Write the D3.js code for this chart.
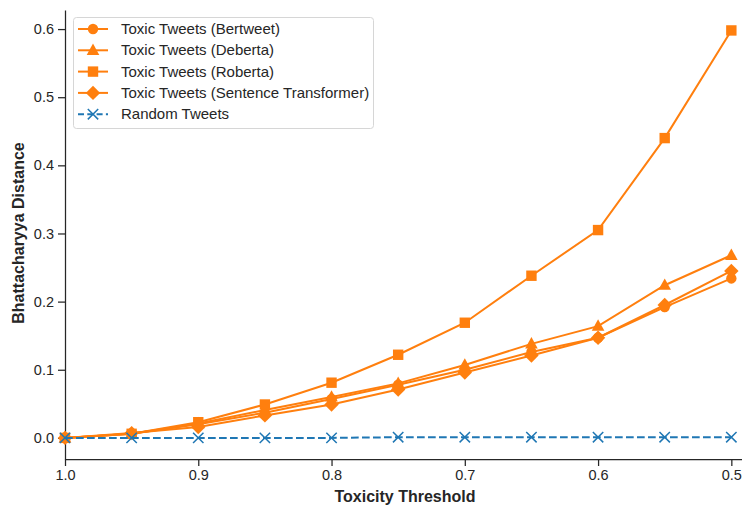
<!DOCTYPE html>
<html>
<head>
<meta charset="utf-8">
<script src="https://cdn.jsdelivr.net/npm/d3@7/dist/d3.min.js"></script>
<style>
  html, body { margin: 0; padding: 0; background: #fff; }
  svg text { font-family: "Liberation Sans", Arial, sans-serif; fill: #262626; }
</style>
</head>
<body>
<svg id="chart" width="742" height="506"></svg>
<script>
// Toxicity thresholds (x axis runs from 1.0 down to 0.5)
const thresholds = [1.0, 0.95, 0.9, 0.85, 0.8, 0.75, 0.7, 0.65, 0.6, 0.55, 0.5];

// Bhattacharyya distance per threshold, one array per embedding model
const bertweet   = [0.000, 0.006, 0.020, 0.037, 0.057, 0.078, 0.100, 0.126, 0.147, 0.192, 0.234];
const deberta    = [0.000, 0.006, 0.021, 0.041, 0.060, 0.080, 0.107, 0.138, 0.164, 0.224, 0.268];
const roberta    = [0.000, 0.006, 0.023, 0.049, 0.081, 0.122, 0.169, 0.238, 0.305, 0.440, 0.598];
const sentenceTf = [0.000, 0.007, 0.016, 0.033, 0.049, 0.071, 0.096, 0.121, 0.147, 0.195, 0.245];
const randomTw   = [0.000, 0.000, 0.000, 0.000, 0.000, 0.001, 0.001, 0.001, 0.001, 0.001, 0.001];

const yTicks = [0.0, 0.1, 0.2, 0.3, 0.4, 0.5, 0.6];
const xTicks = [1.0, 0.9, 0.8, 0.7, 0.6, 0.5];

const series = [
  { name: "Toxic Tweets (Bertweet)", values: bertweet, color: "#ff7f0e", marker: "circle", dash: null },
  { name: "Toxic Tweets (Deberta)", values: deberta, color: "#ff7f0e", marker: "triangle", dash: null },
  { name: "Toxic Tweets (Roberta)", values: roberta, color: "#ff7f0e", marker: "square", dash: null },
  { name: "Toxic Tweets (Sentence Transformer)", values: sentenceTf, color: "#ff7f0e", marker: "diamond", dash: null },
  { name: "Random Tweets", values: randomTw, color: "#1f77b4", marker: "x", dash: "7.7,3.3" }
];

const svg = d3.select("#chart");
const plotLeft = 65, plotRight = 742, plotTop = 10, plotBottom = 459;

const x = d3.scaleLinear().domain([1.0, 0.492]).range([plotLeft, plotRight]);
const y = d3.scaleLinear().domain([-0.031, 0.628]).range([plotBottom, plotTop]);

const axisColor = "#262626";

// Axes
const xAxis = svg.append("g")
  .attr("transform", `translate(0,${plotBottom})`)
  .call(d3.axisBottom(x).tickValues(xTicks).tickFormat(d3.format(".1f")).tickSize(7).tickPadding(4).tickSizeOuter(0));
const yAxis = svg.append("g")
  .attr("transform", `translate(${plotLeft},0)`)
  .call(d3.axisLeft(y).tickValues(yTicks).tickFormat(d3.format(".1f")).tickSize(7).tickPadding(4).tickSizeOuter(0));

[xAxis, yAxis].forEach(a => {
  a.select(".domain").attr("stroke", axisColor).attr("stroke-width", 1.25);
  a.selectAll(".tick line").attr("stroke", axisColor).attr("stroke-width", 1.25);
  a.selectAll(".tick text").attr("font-size", 14.5).attr("fill", axisColor)
    .style("font-family", '"Liberation Sans", Arial, sans-serif');
});

// Axis titles
svg.append("text")
  .attr("x", 405).attr("y", 502)
  .attr("text-anchor", "middle").attr("font-size", 16).attr("font-weight", "bold")
  .text("Toxicity Threshold");
svg.append("text")
  .attr("transform", "translate(24,233) rotate(-90)")
  .attr("text-anchor", "middle").attr("font-size", 16).attr("font-weight", "bold")
  .text("Bhattacharyya Distance");

// Marker drawing
function drawMarker(g, type, color, cx, cy) {
  if (type === "circle") {
    g.append("circle").attr("cx", cx).attr("cy", cy).attr("r", 5.2).attr("fill", color);
  } else if (type === "square") {
    g.append("rect").attr("x", cx - 5.2).attr("y", cy - 5.2).attr("width", 10.4).attr("height", 10.4).attr("fill", color);
  } else if (type === "triangle") {
    g.append("path").attr("d", `M${cx},${cy - 6.8}L${cx + 6.3},${cy + 4.6}L${cx - 6.3},${cy + 4.6}Z`).attr("fill", color);
  } else if (type === "diamond") {
    g.append("path").attr("d", `M${cx},${cy - 7.2}L${cx + 7.2},${cy}L${cx},${cy + 7.2}L${cx - 7.2},${cy}Z`).attr("fill", color);
  } else if (type === "x") {
    const s = 5.2;
    g.append("path").attr("d", `M${cx - s},${cy - s}L${cx + s},${cy + s}M${cx - s},${cy + s}L${cx + s},${cy - s}`)
      .attr("stroke", color).attr("stroke-width", 1.5).attr("fill", "none");
  }
}

const line = d3.line().x((d, i) => x(thresholds[i])).y(d => y(d));

const plot = svg.append("g");
series.forEach(s => {
  const g = plot.append("g");
  g.append("path").datum(s.values)
    .attr("d", line)
    .attr("fill", "none")
    .attr("stroke", s.color)
    .attr("stroke-width", 2)
    .attr("stroke-dasharray", s.dash);
  s.values.forEach((v, i) => drawMarker(g, s.marker, s.color, x(thresholds[i]), y(v)));
});

// Legend
const legend = svg.append("g");
legend.append("rect")
  .attr("x", 73.5).attr("y", 17.5).attr("width", 300).attr("height", 111)
  .attr("rx", 3).attr("fill", "#fff").attr("fill-opacity", 0.8)
  .attr("stroke", "#d6d6d6").attr("stroke-width", 1);
series.forEach((s, i) => {
  const cy = 29 + i * 21.3;
  legend.append("line")
    .attr("x1", 78).attr("x2", 108).attr("y1", cy).attr("y2", cy)
    .attr("stroke", s.color).attr("stroke-width", 2)
    .attr("stroke-dasharray", s.dash ? "6,3.3" : null);
  drawMarker(legend, s.marker, s.color, 93, cy);
  legend.append("text")
    .attr("x", 121).attr("y", cy + 5)
    .attr("font-size", 15)
    .text(s.name);
});
</script>
</body>
</html>
